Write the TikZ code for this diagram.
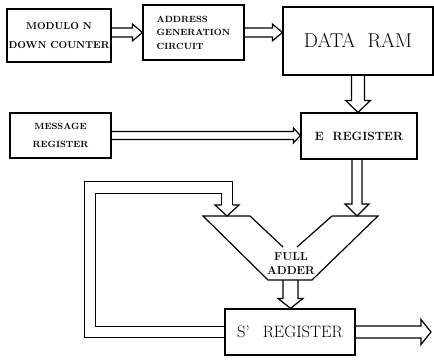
\documentclass[tikz,border=0pt]{standalone}
\usetikzlibrary{calc}
\tikzset{
  box/.style 2 args={draw, line width=1.2pt, inner sep=0pt, align=center,
    minimum width=#1pt, minimum height=#2pt},
  % hollow block arrow: #1 shaft half-width, #2 head half-width, #3 head length
  fat/.style n args={3}{line width=1.2pt, line join=miter, to path={
    ($(\tikztostart)!#1pt!90:(\tikztotarget)$)
    -- ($(\tikztotarget)!#3pt!(\tikztostart)!#1pt!90:(\tikztotarget)$)
    -- ($(\tikztotarget)!#3pt!(\tikztostart)!#2pt!90:(\tikztotarget)$)
    -- (\tikztotarget)
    -- ($(\tikztotarget)!#3pt!(\tikztostart)!#2pt!-90:(\tikztotarget)$)
    -- ($(\tikztotarget)!#3pt!(\tikztostart)!#1pt!-90:(\tikztotarget)$)
    -- ($(\tikztostart)!#1pt!-90:(\tikztotarget)$)
  }},
  smallbf/.style={font=\fontsize{9}{13.5}\selectfont\bfseries},
}
\begin{document}
\begin{tikzpicture}[x=1pt,y=-1pt]
\useasboundingbox (0,0) rectangle (434,360);

% feedback loop from S' register back to the adder (double line)
\coordinate (fb1) at (90,332);
\coordinate (fb2) at (90,187.5);
\coordinate (fb3) at (227,187.5);
\coordinate (fb4) at (227,205);
\coordinate (adl) at (227,216);
\coordinate (adr) at (357,216);
\coordinate (ado) at (290.5,280);
\coordinate (out) at (431,332);

\node[box={130}{46}, font=\fontsize{16.5}{18}\selectfont] (sreg) at (290,332) {S'\hspace{13pt}REGISTER};
\draw[line width=1.2pt, double, double distance=10.3pt, line join=miter]
  (sreg.west) -- (fb1) -- (fb2) -- (fb3) -- (fb4);
\draw[fat={5.5}{12}{11}] (fb4) to (adl);

% blocks
\node[box={104}{53}, font=\fontsize{10}{19}\selectfont\bfseries] (mod) at (59,35.5) {MODULO N\\DOWN COUNTER};
\node[box={101}{55}, smallbf, align=left] (addr) at (193.5,32.5) {ADDRESS\\GENERATION\\CIRCUIT};
\node[box={150}{68}, font=\fontsize{20}{22}\selectfont] (ram) at (358,41) {DATA\hspace{12pt}RAM};
\node[box={101}{45}, font=\fontsize{9}{18}\selectfont\bfseries] (msg) at (60.5,135.5) {MESSAGE\\REGISTER};
\node[box={116}{46}, font=\fontsize{12}{14}\selectfont\bfseries] (ereg) at (359,136) {E\hspace{9pt}REGISTER};
\draw[line width=1.2pt] (sreg.north west) rectangle (sreg.south east);

% full adder
\draw[line width=1.2pt, line join=miter]
  (250,216) -- (203,216) -- (268,280) -- (312,280) -- (378,216) -- (332,216);
\draw[line width=1.2pt] (250,216) -- (283,247);
\draw[line width=1.2pt] (332,216) -- (297,247);
\node[font=\fontsize{11.5}{14}\selectfont\bfseries, align=center, inner sep=0pt] (adder) at (291,264) {FULL\\ADDER};

% data paths
\coordinate (a1) at (mod.east |- addr.west);
\coordinate (a2) at (addr.east -| ram.west);
\coordinate (a3) at (ram.south |- ereg.north);
\coordinate (a4) at (msg.east -| ereg.west);
\coordinate (a5) at (ereg.south -| adr);
\coordinate (a6) at (ado |- sreg.north);
\draw[fat={4.5}{8.5}{10}] (a1) to (addr.west);
\draw[fat={4.5}{8.5}{10}] (addr.east) to (a2);
\draw[fat={6.5}{12.5}{12}] (ram.south) to (a3);
\draw[fat={4}{7.5}{7}] (msg.east) to (a4);
\draw[fat={5}{12}{12}] (a5) to (adr);
\draw[fat={7.5}{12.5}{10}] (ado) to (a6);
\draw[fat={6}{12.5}{10}] (sreg.east) to (out);
\end{tikzpicture}
\end{document}
